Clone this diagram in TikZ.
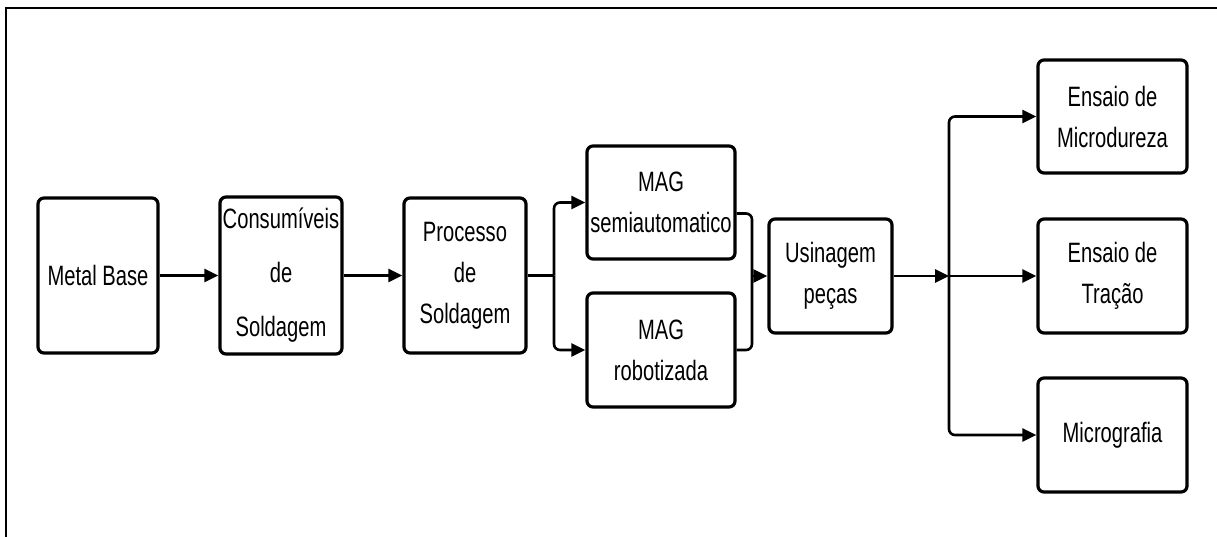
\documentclass[tikz,border=0pt]{standalone}
\usepackage{fontspec}
\setmainfont{Liberation Sans}[FakeStretch=0.72]
\usetikzlibrary{arrows.meta}
\tikzset{
  box/.style={draw, line width=3.2pt, rounded corners=6pt, align=center, inner sep=0pt,
    font=\fontsize{28}{41}\selectfont},
  arr/.style={line width=2.6pt, -{Triangle[length=14pt,width=13pt]}},
  ln/.style={line width=2.6pt},
  frame/.style={line width=2.4pt}
}
\begin{document}
\begin{tikzpicture}[x=1pt,y=-1pt]
\useasboundingbox (0,0) rectangle (1217,537);
\begin{scope}
\clip (0,0) rectangle (1217,537);
\draw[frame] (6,560) -- (6,8) -- (1240,8);
\end{scope}
\node[box, minimum width=120pt, minimum height=155pt] (metal) at (98,275.5) {Metal Base};
\node[box, minimum width=122pt, minimum height=157pt, font=\fontsize{28}{54}\selectfont] (cons) at (281,275.5) {Consumíveis\\de\\Soldagem};
\node[box, minimum width=122pt, minimum height=155pt] (proc) at (465,275.5) {Processo\\de\\Soldagem};
\node[box, minimum width=148pt, minimum height=113pt] (semi) at (661,202.5) {MAG\\semiautomatico};
\node[box, minimum width=148pt, minimum height=114pt] (robo) at (661,350) {MAG\\robotizada};
\node[box, minimum width=123pt, minimum height=114pt] (usin) at (830.5,276) {Usinagem\\peças};
\node[box, minimum width=149pt, minimum height=113pt] (micro) at (1112.5,116.5) {Ensaio de\\Microdureza};
\node[box, minimum width=149pt, minimum height=114pt] (trac) at (1112.5,276) {Ensaio de\\Tração};
\node[box, minimum width=149pt, minimum height=114pt] (micg) at (1112.5,435) {Micrografia};
\coordinate (j1) at (554,275.5);
\coordinate (j2) at (752,276);
\coordinate (j3) at (949,276);
\draw[arr] (metal) -- (cons);
\draw[arr] (cons) -- (proc);
\draw[ln] (proc.east) -- (j1);
\draw[arr, rounded corners=6pt] (j1) |- (semi.west);
\draw[arr, rounded corners=6pt] (j1) |- (robo.west);
\draw[ln, rounded corners=6pt] ([yshift=-11pt]semi.east) -| (j2) |- (robo.east);
\draw[arr] (j2) -- (usin.west);
\draw[arr] (usin.east) -- (j3);
\draw[arr, rounded corners=6pt] (j3) |- (micro.west);
\draw[arr] (j3) -- (trac.west);
\draw[arr, rounded corners=6pt] (j3) |- (micg.west);
\end{tikzpicture}
\end{document}
